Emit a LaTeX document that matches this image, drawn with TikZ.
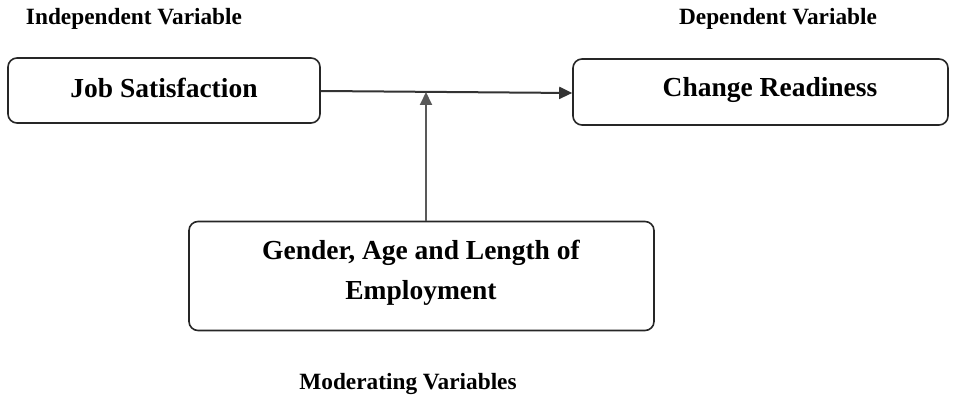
\documentclass[tikz,border=0pt]{standalone}
\usepackage{fontspec}
\setmainfont{Liberation Serif}
\usetikzlibrary{arrows.meta}
\begin{document}
\begin{tikzpicture}[x=1pt,y=1pt,
  box/.style={draw=black!85, line width=1.6pt, rounded corners=9pt, inner sep=0pt},
  boxtext/.style={inner sep=0pt, align=center, font=\fontsize{27.5}{40}\selectfont\bfseries},
  lbl/.style={inner sep=0pt, font=\fontsize{23.3}{28}\selectfont\bfseries},
  conn/.style={draw=black!65, line width=2pt, -{Triangle[length=13pt,width=12pt]}}]
\useasboundingbox (0,0) rectangle (956,-401);
\node[lbl] (iv) at (134,-19) {Independent Variable};
\node[lbl] (dv) at (778,-19) {Dependent Variable};
\node[lbl] (mv) at (408,-384) {Moderating Variables};
\node[box, minimum width=312pt, minimum height=65pt] (js) at (164,-90.5) {};
\node[boxtext] (jst) at (164,-88) {Job Satisfaction};
\node[box, minimum width=375pt, minimum height=66pt] (cr) at (760.5,-92) {};
\node[boxtext] (crt) at (770,-90) {Change Readiness};
\node[box, minimum width=465pt, minimum height=109pt] (gm) at (421.5,-276) {};
\node[boxtext] (gmt) at (421,-273) {Gender, Age and Length of\\Employment};
\coordinate (mid) at (426,-92);
\draw[conn, draw=black!80] (js.east |- 0,-91) -- (cr.west |- 0,-93);
\draw[conn] (gm.north -| mid) -- (mid);
\end{tikzpicture}
\end{document}
